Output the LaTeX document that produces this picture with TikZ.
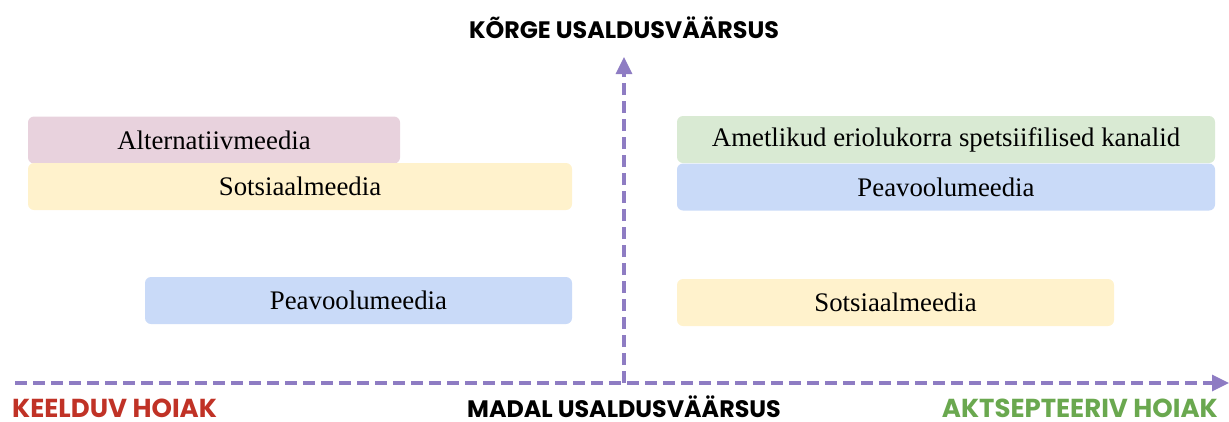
\documentclass[tikz,border=0pt]{standalone}
\usepackage{fontspec}
\setmainfont{Liberation Serif}
\newfontfamily\headfont{Poppins}
\usepackage{xcolor}
\definecolor{axpurple}{RGB}{142,124,195}
\definecolor{boxpink}{RGB}{232,210,221}
\definecolor{boxyellow}{RGB}{255,242,204}
\definecolor{boxblue}{RGB}{201,218,248}
\definecolor{boxgreen}{RGB}{217,234,211}
\definecolor{hdred}{RGB}{192,50,38}
\definecolor{hdgreen}{RGB}{106,168,79}
\usetikzlibrary{arrows.meta,positioning}

\begin{document}
\begin{tikzpicture}[x=1pt,y=-1pt,
  media/.style={rounded corners=6pt,minimum height=47pt,inner sep=0pt,font=\fontsize{26.8}{30}\selectfont},
  axis/.style={-{Triangle[length=17pt,width=16pt]},line width=3.3pt,axpurple,dash pattern=on 12pt off 6pt},
  head/.style={font=\headfont\bfseries\fontsize{23.8}{26}\selectfont,inner sep=0pt,anchor=base},
  side/.style={head,font=\headfont\bfseries\fontsize{26}{28}\selectfont}]
  \useasboundingbox (0,0) rectangle (1229,421);
  % Axes
  \coordinate (o) at (624,383);
  \coordinate (xs) at (15,383);
  \coordinate (xe) at (1229,383);
  \coordinate (ye) at (624,57);
  \draw[axis] (xs) -- (xe);
  \draw[axis] (o) -- (ye);
  % Axis labels
  \node[head] (high) at (624,38) {KÕRGE USALDUSVÄÄRSUS};
  \node[head] (low) at (624,417) {MADAL USALDUSVÄÄRSUS};
  \node[side,text=hdred,anchor=base west] (refuse) at (12,417) {KEELDUV HOIAK};
  \node[side,text=hdgreen,anchor=base east] (accept) at (1218,417) {AKTSEPTEERIV HOIAK};
  % Left side
  \node[media,fill=boxpink,minimum width=372pt] (alt) at (214,140) {Alternatiivmeedia};
  \node[media,fill=boxyellow,minimum width=544pt] (soc1) at (300,186.5) {Sotsiaalmeedia};
  \node[media,fill=boxblue,minimum width=427pt] (main1) at (358.5,300.5) {Peavoolumeedia};
  % Right side
  \node[media,fill=boxgreen,minimum width=538pt] (off) at (946,139.5) {Ametlikud eriolukorra spetsiifilised kanalid};
  \node[media,fill=boxblue,minimum width=538pt] (main2) at (946,187) {Peavoolumeedia};
  \node[media,fill=boxyellow,minimum width=437pt] (soc2) at (895.5,302.5) {Sotsiaalmeedia};
\end{tikzpicture}
\end{document}
